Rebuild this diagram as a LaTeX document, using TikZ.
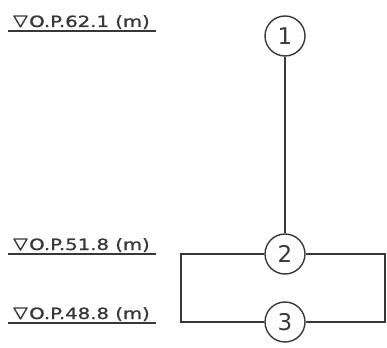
\documentclass[tikz,border=0pt]{standalone}
\usepackage{fontspec}
\setmainfont{DejaVu Sans}
\begin{document}
\begin{tikzpicture}[x=1pt,y=-1pt,
  ln/.style={line width=1.4pt,draw=black!78},
  num/.style={circle,draw=black!78,line width=1.4pt,minimum size=40pt,inner sep=0pt,font=\fontsize{23}{23}\selectfont,text=black!78},
  lvl/.style={anchor=base west,inner sep=0pt,font=\fontsize{15.5}{15.5}\selectfont\addfontfeature{FakeBold=1},text=black!78}]
\useasboundingbox (0,0) rectangle (387,347);
% circles
\node[num] (n1) at (285,36) {1};
\node[num] (n2) at (285,254) {2};
\node[num] (n3) at (285,322) {3};
\draw[ln] (n1) -- (n2);
\coordinate (tl) at (181,254);
\coordinate (tr) at (385,254);
\coordinate (bl) at (181,322);
\coordinate (br) at (385,322);
\draw[ln] (n2.west) -- (tl) -- (bl) -- (n3.west);
\draw[ln] (n2.east) -- (tr) -- (br) -- (n3.east);
% level labels
\foreach \nm/\y/\t in {a/31/62.1, b/254/51.8, c/323/48.8}{
  \coordinate (\nm l) at (8,\y);
  \coordinate (\nm r) at (156,\y);
  \draw[ln] (\nm l) -- (\nm r);
  \coordinate (\nm t1) at (14,\y-15);
  \coordinate (\nm t2) at (27,\y-15);
  \coordinate (\nm t3) at (20.5,\y-4);
  \draw[ln,line join=round] (\nm t1) -- (\nm t2) -- (\nm t3) -- cycle;
  \node[lvl] (\nm txt) at (29,\y-4) {\scalebox{1.27}[1]{O.P.\t\ (m)}};
}
\end{tikzpicture}
\end{document}
